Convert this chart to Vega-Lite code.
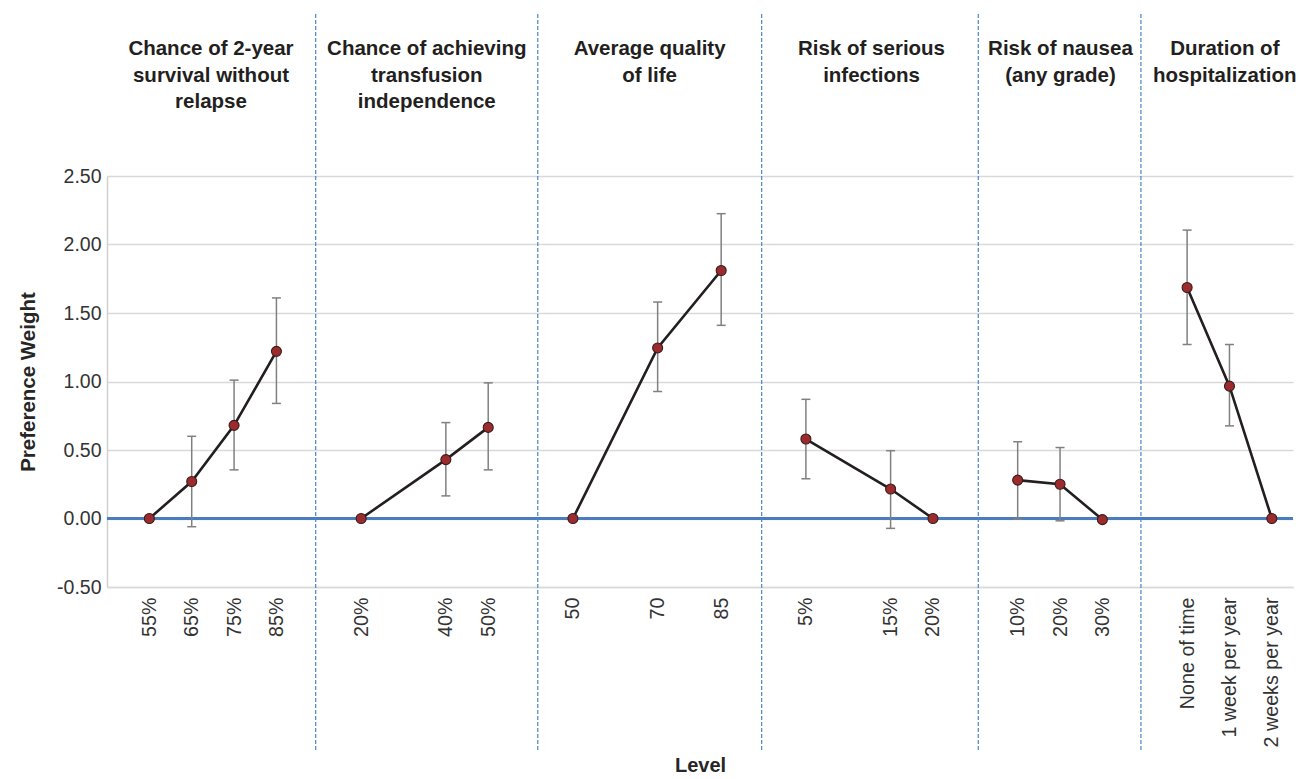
{
  "$schema": "https://vega.github.io/schema/vega-lite/v6.json",
  "width": 1186,
  "height": 411,
  "autosize": {"type": "none"},
  "padding": {"left": 107, "top": 176, "right": 6, "bottom": 192},
  "background": "white",
  "config": {"view": {"stroke": null}, "font": "Liberation Sans"},
  "datasets": {
    "pts": [
      {"attr": "A", "level": "55%", "pos": 0, "value": 0},
      {"attr": "A", "level": "65%", "pos": 1, "value": 0.27, "lo": -0.06, "hi": 0.6},
      {"attr": "A", "level": "75%", "pos": 2, "value": 0.68, "lo": 0.355, "hi": 1.01},
      {"attr": "A", "level": "85%", "pos": 3, "value": 1.22, "lo": 0.84, "hi": 1.61},
      {"attr": "B", "level": "20%", "pos": 5, "value": 0},
      {"attr": "B", "level": "40%", "pos": 7, "value": 0.43, "lo": 0.165, "hi": 0.7},
      {"attr": "B", "level": "50%", "pos": 8, "value": 0.665, "lo": 0.355, "hi": 0.99},
      {"attr": "C", "level": "50", "pos": 10, "value": 0},
      {"attr": "C", "level": "70", "pos": 12, "value": 1.245, "lo": 0.927, "hi": 1.58},
      {"attr": "C", "level": "85", "pos": 13.5, "value": 1.81, "lo": 1.41, "hi": 2.225},
      {"attr": "D", "level": "5%", "pos": 15.5, "value": 0.58, "lo": 0.29, "hi": 0.87},
      {"attr": "D", "level": "15%", "pos": 17.5, "value": 0.215, "lo": -0.072, "hi": 0.495},
      {"attr": "D", "level": "20%", "pos": 18.5, "value": 0},
      {"attr": "E", "level": "10%", "pos": 20.5, "value": 0.28, "lo": -0.005, "hi": 0.56},
      {"attr": "E", "level": "20%", "pos": 21.5, "value": 0.25, "lo": -0.017, "hi": 0.518},
      {"attr": "E", "level": "30%", "pos": 22.5, "value": -0.008},
      {"attr": "F", "level": "None of time", "pos": 24.5, "value": 1.686, "lo": 1.27, "hi": 2.105},
      {"attr": "F", "level": "1 week per year", "pos": 25.5, "value": 0.966, "lo": 0.676, "hi": 1.27},
      {"attr": "F", "level": "2 weeks per year", "pos": 26.5, "value": 0}
    ],
    "headers": [
      {"pos": 1.455, "value": 3.381, "label": "Chance of 2-year\nsurvival without\nrelapse"},
      {"pos": 6.55, "value": 3.381, "label": "Chance of achieving\ntransfusion\nindependence"},
      {"pos": 11.81, "value": 3.381, "label": "Average quality\nof life"},
      {"pos": 17.05, "value": 3.381, "label": "Risk of serious\ninfections"},
      {"pos": 21.51, "value": 3.381, "label": "Risk of nausea\n(any grade)"},
      {"pos": 25.39, "value": 3.381, "label": "Duration of\nhospitalization"}
    ],
    "dividers": [
      {"pos": 3.927, "value": -1.69, "value2": 3.697},
      {"pos": 9.17, "value": -1.69, "value2": 3.697},
      {"pos": 14.456, "value": -1.69, "value2": 3.697},
      {"pos": 19.57, "value": -1.69, "value2": 3.697},
      {"pos": 23.41, "value": -1.69, "value2": 3.697}
    ],
    "zero": [{"value": 0}]
  },
  "layer": [
    {
      "data": {"name": "pts"},
      "mark": {"type": "point", "opacity": 0, "clip": false},
      "encoding": {
        "x": {
          "field": "pos", "type": "quantitative", "title": "Level",
          "scale": {"domain": [-1, 27], "nice": false, "zero": false},
          "axis": {
            "title": "Level",
            "titleFont": "Liberation Sans", "titleFontSize": 20, "titleFontWeight": "bold", "titleColor": "#262626",
            "titlePadding": 9,
            "values": [0, 1, 2, 3, 5, 7, 8, 10, 12, 13.5, 15.5, 17.5, 18.5, 20.5, 21.5, 22.5, 24.5, 25.5, 26.5],
            "labelExpr": "{'0':'55%','1':'65%','2':'75%','3':'85%','5':'20%','7':'40%','8':'50%','10':'50','12':'70','13.5':'85','15.5':'5%','17.5':'15%','18.5':'20%','20.5':'10%','21.5':'20%','22.5':'30%','24.5':'None of time','25.5':'1 week per year','26.5':'2 weeks per year'}['' + datum.value]",
            "labelAngle": 270,
            "labelFont": "Liberation Sans", "labelFontSize": 19.7, "labelColor": "#333333",
            "labelPadding": 10, "labelOverlap": false, "labelFlush": false, "labelBound": false,
            "ticks": false, "grid": false,
            "domain": true, "domainColor": "#d9d9d9", "domainWidth": 1.5
          }
        },
        "y": {
          "field": "value", "type": "quantitative", "title": "Preference Weight",
          "scale": {"domain": [-0.5, 2.5], "nice": false, "zero": false},
          "axis": {
            "title": "Preference Weight",
            "titleFont": "Liberation Sans", "titleFontSize": 20.5, "titleFontWeight": "bold", "titleColor": "#262626",
            "titlePadding": 18,
            "values": [-0.5, 0, 0.5, 1, 1.5, 2, 2.5],
            "labelExpr": "datum.value < 0 ? '-' + format(-datum.value, '.2f') : format(datum.value, '.2f')",
            "labelFont": "Liberation Sans", "labelFontSize": 19.5, "labelColor": "#333333",
            "labelPadding": 6,
            "ticks": false,
            "grid": true, "gridColor": "#d9d9d9", "gridWidth": 1.5,
            "domain": true, "domainColor": "#d0d0d0", "domainWidth": 1.5
          }
        }
      }
    },
    {
      "data": {"name": "zero"},
      "mark": {"type": "rule", "color": "#4a7dbd", "strokeWidth": 3},
      "encoding": {
        "y": {"field": "value", "type": "quantitative", "title": "Preference Weight"}
      }
    },
    {
      "data": {"name": "dividers"},
      "mark": {"type": "rule", "color": "#4a86c8", "strokeWidth": 1.2, "strokeDash": [4, 2], "clip": false},
      "encoding": {
        "x": {"field": "pos", "type": "quantitative", "title": "Level"},
        "y": {"field": "value", "type": "quantitative", "title": "Preference Weight"},
        "y2": {"field": "value2"}
      }
    },
    {
      "data": {"name": "pts"},
      "transform": [{"filter": "isValid(datum.lo)"}],
      "mark": {"type": "rule", "color": "#808080", "strokeWidth": 1.5},
      "encoding": {
        "x": {"field": "pos", "type": "quantitative", "title": "Level"},
        "y": {"field": "lo", "type": "quantitative", "title": "Preference Weight"},
        "y2": {"field": "hi"}
      }
    },
    {
      "data": {"name": "pts"},
      "transform": [{"filter": "isValid(datum.lo)"}],
      "mark": {"type": "tick", "orient": "horizontal", "color": "#808080", "size": 9, "thickness": 1.5, "opacity": 1},
      "encoding": {
        "x": {"field": "pos", "type": "quantitative", "title": "Level"},
        "y": {"field": "lo", "type": "quantitative", "title": "Preference Weight"}
      }
    },
    {
      "data": {"name": "pts"},
      "transform": [{"filter": "isValid(datum.hi)"}],
      "mark": {"type": "tick", "orient": "horizontal", "color": "#808080", "size": 9, "thickness": 1.5, "opacity": 1},
      "encoding": {
        "x": {"field": "pos", "type": "quantitative", "title": "Level"},
        "y": {"field": "hi", "type": "quantitative", "title": "Preference Weight"}
      }
    },
    {
      "data": {"name": "pts"},
      "mark": {"type": "line", "color": "#231f20", "strokeWidth": 2.6},
      "encoding": {
        "x": {"field": "pos", "type": "quantitative", "title": "Level"},
        "y": {"field": "value", "type": "quantitative", "title": "Preference Weight"},
        "detail": {"field": "attr", "type": "nominal"}
      }
    },
    {
      "data": {"name": "pts"},
      "mark": {"type": "point", "shape": "circle", "filled": true, "fill": "#9c2b2d", "stroke": "#3a1c1c", "strokeWidth": 1.1, "size": 100, "opacity": 1},
      "encoding": {
        "x": {"field": "pos", "type": "quantitative", "title": "Level"},
        "y": {"field": "value", "type": "quantitative", "title": "Preference Weight"}
      }
    },
    {
      "data": {"name": "headers"},
      "mark": {"type": "text", "font": "Liberation Sans", "fontSize": 20.5, "fontWeight": "bold", "color": "#231f20", "align": "center", "baseline": "alphabetic", "lineBreak": "\n", "lineHeight": 26.5, "clip": false},
      "encoding": {
        "x": {"field": "pos", "type": "quantitative", "title": "Level"},
        "y": {"field": "value", "type": "quantitative", "title": "Preference Weight"},
        "text": {"field": "label", "type": "nominal"}
      }
    }
  ]
}
